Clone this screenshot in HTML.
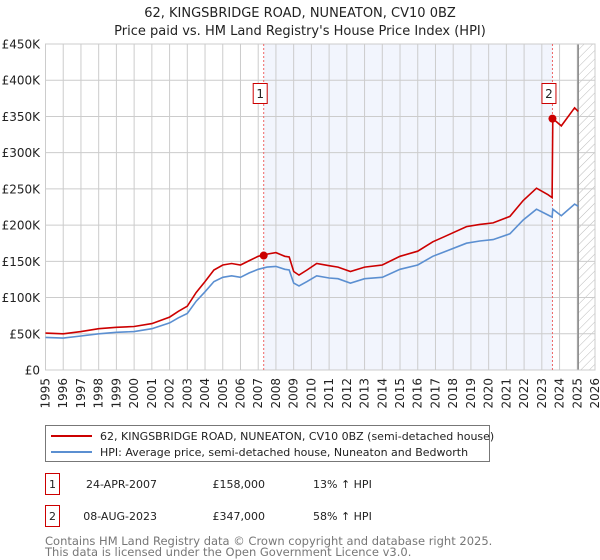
<!DOCTYPE html>
<html><head><meta charset="utf-8"><style>
body{margin:0;background:#fff;font-family:"DejaVu Sans","Liberation Sans",sans-serif;}
svg{display:block}
</style></head><body>
<svg id="chart" width="600" height="560" xmlns="http://www.w3.org/2000/svg" font-family="DejaVu Sans, Liberation Sans, sans-serif">
<defs><pattern id="hatch" width="6" height="6" patternUnits="userSpaceOnUse" patternTransform="rotate(45)"><line x1="0" y1="0" x2="0" y2="6" stroke="#bbb" stroke-width="1"/></pattern></defs>
<text x="300" y="17" text-anchor="middle" font-size="13" fill="#222">62, KINGSBRIDGE ROAD, NUNEATON, CV10 0BZ</text>
<text x="300" y="35" text-anchor="middle" font-size="13" fill="#222">Price paid vs. HM Land Registry's House Price Index (HPI)</text>
<g id="plot"></g>
<g>
<rect x="45.5" y="425.5" width="444" height="36" fill="#fff" stroke="#777"/>
<line x1="51" y1="436" x2="92" y2="436" stroke="#cc0000" stroke-width="2"/>
<text x="100" y="440" font-size="11" fill="#222">62, KINGSBRIDGE ROAD, NUNEATON, CV10 0BZ (semi-detached house)</text>
<line x1="51" y1="452" x2="92" y2="452" stroke="#5b8fd1" stroke-width="2"/>
<text x="100" y="456" font-size="11" fill="#222">HPI: Average price, semi-detached house, Nuneaton and Bedworth</text>
</g>
<g font-size="11" fill="#222">
<rect x="45.5" y="473.5" width="14" height="21" fill="#fff" stroke="#cc0000"/>
<text x="52.5" y="488" text-anchor="middle">1</text>
<text x="157" y="488" text-anchor="end">24-APR-2007</text>
<text x="265" y="488" text-anchor="end">£158,000</text>
<text x="313" y="488">13% ↑ HPI</text>
<rect x="45.5" y="505.5" width="14" height="21" fill="#fff" stroke="#cc0000"/>
<text x="52.5" y="520" text-anchor="middle">2</text>
<text x="157" y="520" text-anchor="end">08-AUG-2023</text>
<text x="265" y="520" text-anchor="end">£347,000</text>
<text x="313" y="520">58% ↑ HPI</text>
</g>
<text x="45" y="545" font-size="11.5" fill="#777">Contains HM Land Registry data © Crown copyright and database right 2025.</text>
<text x="45" y="556" font-size="11.5" fill="#777">This data is licensed under the Open Government Licence v3.0.</text>
</svg>
<script>
const years=[1995,1996,1997,1998,1999,2000,2001,2002,2002.5,2003,2003.5,2004,2004.5,2005,2005.5,2006,2006.5,2007,2007.5,2008,2008.5,2008.75,2009,2009.3,2009.75,2010.3,2011,2011.5,2012.2,2013,2014,2015,2016,2016.85,2017.5,2018.75,2019.5,2020.25,2021.2,2021.95,2022.7,2023.35,2023.58,2023.62,2024.1,2024.85,2025.05];
const hpiValues=[45,44,47,50,52,53,57,65,72,78,95,108,122,128,130,128,134,139,142,143,139,138,120,116,122,130,127,126,120,126,128,139,145,157,163,175,178,180,188,207,222,214,211,222,213,229,226];
const priceValues=[51,50,53,57,59,60,64,73,81,88,107,122,138,145,147,145,151,157,160,162,157,156,136,131,138,147,144,142,136,142,145,157,164,177,184,198,201,203,212,234,251,242,238,347,337,362,357];
const saleYears=[2007.31,2023.6];
const salePrices=[158,347];
const yTicks=[0,50,100,150,200,250,300,350,400,450];
const yTickLabels=["£0","£50K","£100K","£150K","£200K","£250K","£300K","£350K","£400K","£450K"];
const xTicks=[1995,1996,1997,1998,1999,2000,2001,2002,2003,2004,2005,2006,2007,2008,2009,2010,2011,2012,2013,2014,2015,2016,2017,2018,2019,2020,2021,2022,2023,2024,2025,2026];
const dataEnd=2025.05;

const X0=45.5,X1=595,Y0=370,Y1=44;
const xs=y=>X0+(y-1995)/(2026-1995)*(X1-X0);
const ys=v=>Y0-v/450*(Y0-Y1);
const NS="http://www.w3.org/2000/svg";
const g=document.getElementById('plot');
function mk(t,a){const e=document.createElementNS(NS,t);for(const k in a)e.setAttribute(k,a[k]);g.appendChild(e);return e;}

let e=mk('rect',{x:xs(saleYears[0]),y:Y1,width:xs(saleYears[1])-xs(saleYears[0]),height:Y0-Y1,fill:'#f2f5fd'});


e=mk('rect',{x:xs(dataEnd),y:Y1,width:X1-xs(dataEnd),height:Y0-Y1,fill:'url(#hatch)'});


xTicks.forEach((t,i)=>{
  const l=mk('line',{x1:xs(t),x2:xs(t),y1:Y1,y2:Y0,stroke:'#ccc','stroke-width':1});
  
  
  const x=xs(t);
  const tx=mk('text',{x:0,y:0,transform:`translate(${x+4},${Y0+8}) rotate(-90)`,'text-anchor':'end','font-size':12,fill:'#222'});
  tx.textContent=t;
  
  
});
yTicks.forEach((t,i)=>{
  const l=mk('line',{x1:X0,x2:X1,y1:ys(t),y2:ys(t),stroke:'#ccc','stroke-width':1});
  
  
  const tx=mk('text',{x:40,y:ys(t)+4.5,'text-anchor':'end','font-size':12,fill:'#222'});
  tx.textContent=yTickLabels[i];
  
  
});
e=mk('line',{x1:xs(dataEnd),x2:xs(dataEnd),y1:Y1,y2:Y0,stroke:'#888','stroke-width':1.5});


e=mk('rect',{x:X0,y:Y1,width:X1-X0,height:Y0-Y1,fill:'none',stroke:'#ccc'});


saleYears.forEach((s,i)=>{
  const l=mk('line',{x1:xs(s),x2:xs(s),y1:Y1,y2:Y0,stroke:'#ee6666','stroke-width':1,'stroke-dasharray':'2,2'});
  
  
  const b=mk('rect',{x:xs(s)-10.5,y:83.5,width:14,height:20,fill:'#fff',stroke:'#cc0000'});
  
  
  const t=mk('text',{x:xs(s)-3.5,y:98,'text-anchor':'middle','font-size':12,fill:'#222'});
  t.textContent=String(i+1);
  
  
});
const pts=v=>years.map((y,i)=>xs(y).toFixed(1)+','+ys(v[i]).toFixed(1)).join(' ');
e=mk('polyline',{points:pts(hpiValues),fill:'none',stroke:'#5b8fd1','stroke-width':1.6});


e=mk('polyline',{points:pts(priceValues),fill:'none',stroke:'#cc0000','stroke-width':1.6});


saleYears.forEach((s,i)=>{
  const c=mk('circle',{cx:xs(s),cy:ys(salePrices[i]),r:4,fill:'#cc0000'});
  
  
});
</script>
</body></html>
